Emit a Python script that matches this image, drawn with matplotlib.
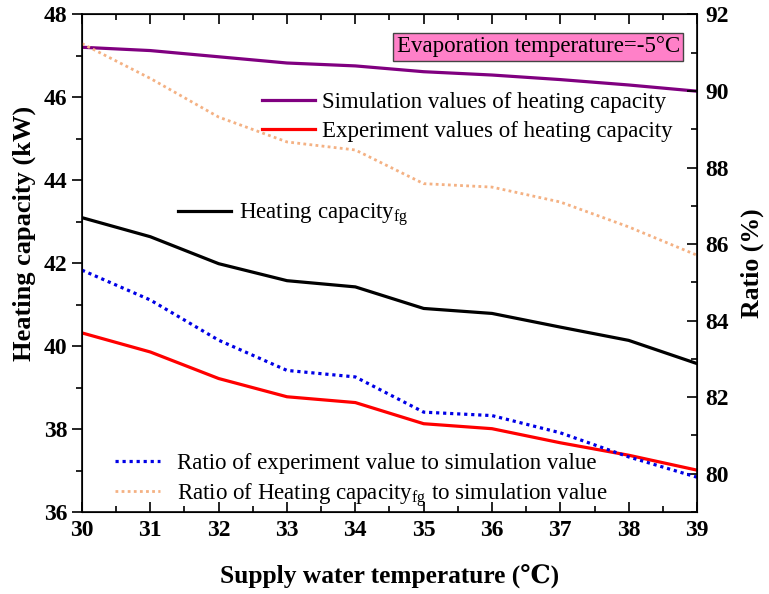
import matplotlib
matplotlib.use("Agg")
import matplotlib.pyplot as plt
from matplotlib.ticker import MultipleLocator

plt.rcParams["font.family"] = ["Liberation Serif", "DejaVu Serif"]
plt.rcParams["mathtext.fontset"] = "custom"
plt.rcParams["mathtext.rm"] = "Liberation Serif"
plt.rcParams["mathtext.it"] = "Liberation Serif:italic"

# supply water temperature (C)
temp = [30, 31, 32, 33, 34, 35, 36, 37, 38, 39]

# heating capacity (kW), left axis
sim_cap = [47.21, 47.13, 46.98, 46.83, 46.76, 46.62, 46.54, 46.43, 46.30, 46.15]
exp_cap = [40.32, 39.86, 39.22, 38.78, 38.64, 38.13, 38.01, 37.67, 37.37, 37.01]
fg_cap = [43.10, 42.64, 41.99, 41.58, 41.43, 40.91, 40.79, 40.46, 40.14, 39.58]

# ratio (%), right axis
ratio_exp = [85.32, 84.54, 83.49, 82.70, 82.53, 81.61, 81.52, 81.07, 80.44, 79.91]
ratio_fg = [91.24, 90.33, 89.32, 88.67, 88.46, 87.58, 87.49, 87.10, 86.45, 85.71]

fig = plt.figure(figsize=(7.69, 5.94), dpi=100)
ax = fig.add_axes([0.1066, 0.138, 0.7998, 0.8376])
ax2 = ax.twinx()

l_sim, = ax.plot(temp, sim_cap, color="#800080", lw=2.3)
l_exp, = ax.plot(temp, exp_cap, color="#ff0000", lw=2.3)
l_fg, = ax.plot(temp, fg_cap, color="black", lw=2.3)
l_rexp, = ax2.plot(temp, ratio_exp, color="#0000e6", lw=2.3, ls=(0, (1, 1.2)))
l_rfg, = ax2.plot(temp, ratio_fg, color="#f4b183", lw=2.0, ls=(0, (1, 1.2)))

ax.set_xlim(30, 39)
ax.set_ylim(36, 48)
ax2.set_ylim(79, 92)

ax.xaxis.set_major_locator(MultipleLocator(1))
ax.xaxis.set_minor_locator(MultipleLocator(0.5))
ax.yaxis.set_major_locator(MultipleLocator(2))
ax.yaxis.set_minor_locator(MultipleLocator(1))
ax2.yaxis.set_major_locator(MultipleLocator(2))
ax2.yaxis.set_minor_locator(MultipleLocator(1))

ax.tick_params(axis="x", which="both", direction="in", top=True, width=1.2)
ax.tick_params(axis="x", which="major", length=7, labelsize=17, pad=6)
ax.tick_params(axis="x", which="minor", length=4)
ax.tick_params(axis="y", which="both", direction="out", width=1.2)
ax.tick_params(axis="y", which="major", length=7, labelsize=17)
ax.tick_params(axis="y", which="minor", length=4)
ax2.tick_params(axis="y", which="both", direction="in", width=1.2)
ax2.tick_params(axis="y", which="major", length=7, labelsize=17, pad=6)
ax2.tick_params(axis="y", which="minor", length=4)
for lab in ax.get_xticklabels() + ax.get_yticklabels() + ax2.get_yticklabels():
    lab.set_fontweight("bold")
for sp in ax2.spines.values():
    sp.set_linewidth(1.2)

ax.set_xlabel("Supply water temperature (\u2103)", fontsize=18.3, fontweight="bold", labelpad=17)
ax.set_ylabel("Heating capacity (kW)", fontsize=19, fontweight="bold", labelpad=4)
ax.yaxis.set_label_coords(-0.075, 0.56)
ax2.set_ylabel("Ratio (%)", fontsize=18.5, fontweight="bold", labelpad=8)

ax.text(0.512, 0.935, "Evaporation temperature=-5\u00b0C", transform=ax.transAxes,
        fontsize=16.5, va="center", ha="left", zorder=5,
        bbox=dict(boxstyle="square,pad=0.15", facecolor="#ff80c8", edgecolor="#444444", lw=1))

leg_kw = dict(frameon=False, fontsize=16.5, borderpad=0, borderaxespad=0)
leg1 = ax2.legend([l_sim, l_exp],
                  ["Simulation values of heating capacity", "Experiment values of heating capacity"],
                  loc="center left", bbox_to_anchor=(0.293, 0.794),
                  handlelength=2.3, handletextpad=0.3, labelspacing=0.32, **leg_kw)
ax2.add_artist(leg1)
leg2 = ax2.legend([l_fg], ["Heating capacity$_{\\mathrm{fg}}$"],
                  loc="center left", bbox_to_anchor=(0.156, 0.598),
                  handlelength=2.3, handletextpad=0.35, **leg_kw)
ax2.add_artist(leg2)
ax2.legend([l_rexp, l_rfg],
           ["Ratio of experiment value to simulation value",
            "Ratio of Heating capacity$_{\\mathrm{fg}}$ to simulation value"],
           loc="center left", bbox_to_anchor=(0.054, 0.063),
           handlelength=1.95, handletextpad=0.75, labelspacing=0.3, **leg_kw)

fig.savefig("out.png", dpi=100)
